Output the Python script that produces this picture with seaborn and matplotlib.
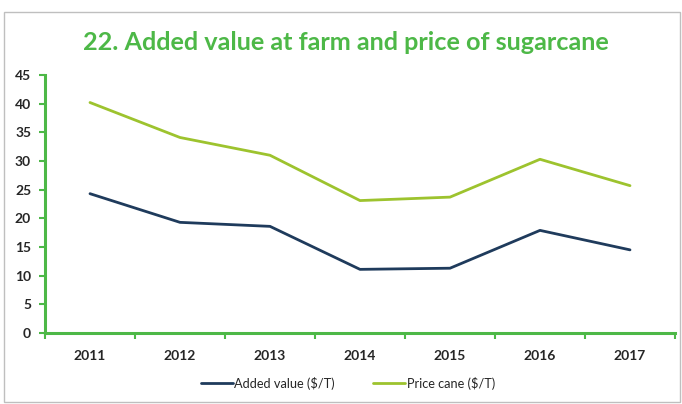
import matplotlib
matplotlib.use("Agg")
import matplotlib.pyplot as plt
import seaborn as sns
import pandas as pd
from matplotlib.patches import Rectangle
from matplotlib.ticker import FixedLocator

years = [2011, 2012, 2013, 2014, 2015, 2016, 2017]
added_value = [24.3, 19.3, 18.6, 11.1, 11.3, 17.9, 14.5]
price_cane = [40.2, 34.1, 31.0, 23.1, 23.7, 30.3, 25.7]
series_names = ["Added value ($/T)", "Price cane ($/T)"]
y_ticks = [0, 5, 10, 15, 20, 25, 30, 35, 40, 45]
title = "22. Added value at farm and price of sugarcane"

df = pd.DataFrame({
    "year": years * 2,
    "value": added_value + price_cane,
    "series": [series_names[0]] * len(years) + [series_names[1]] * len(years),
})

sns.set_theme(style="white")
plt.rcParams["font.family"] = ["Lato", "DejaVu Sans"]

GREEN = "#4DB847"
NAVY = "#1F3B5C"
LIME = "#9DC32E"
TXT = "#262626"

fig = plt.figure(figsize=(6.82, 4.04), dpi=100)
ax = fig.add_axes([45 / 682, 71 / 404, 630 / 682, 258 / 404])

sns.lineplot(data=df, x="year", y="value", hue="series",
             palette=[NAVY, LIME], linewidth=2.0, ax=ax, legend=True)

ax.set_xlim(years[0] - 0.5, years[-1] + 0.5)
ax.set_ylim(0, 45)
ax.set_yticks(y_ticks)
ax.set_yticklabels([str(t) for t in y_ticks], fontsize=10, color=TXT, fontweight="bold")
ax.set_xticks(years)
ax.set_xticklabels([str(y) for y in years], fontsize=10, color=TXT, fontweight="bold")
ax.xaxis.set_minor_locator(FixedLocator([y + 0.5 for y in [years[0] - 1] + years]))
ax.tick_params(axis="x", which="major", length=0, pad=12)
ax.tick_params(axis="x", which="minor", length=4, width=1.5, color=GREEN, direction="out", bottom=True)
ax.tick_params(axis="y", which="major", length=4, width=1.5, color=GREEN, direction="out", left=True, pad=6)
ax.set_xlabel("")
ax.set_ylabel("")

for s in ["top", "right"]:
    ax.spines[s].set_visible(False)
for s in ["left", "bottom"]:
    ax.spines[s].set_color(GREEN)
    ax.spines[s].set_linewidth(2.2)

handles, labels = ax.get_legend_handles_labels()
ax.legend_.remove()
fig.legend(handles, labels, loc="center", bbox_to_anchor=(348 / 682, 1 - 383 / 404),
           ncol=2, frameon=False, fontsize=9.2, handlelength=2.5, handletextpad=0.1,
           columnspacing=3.0, labelcolor=TXT)

fig.text(346 / 682, 1 - 42 / 404, title, ha="center", va="center",
         fontsize=18.2, fontweight="bold", color=GREEN)

fig.patches.append(Rectangle((4 / 682, 2 / 404), 676 / 682, 390 / 404,
                             transform=fig.transFigure, fill=False,
                             edgecolor="#BFBFBF", linewidth=1.0))

fig.savefig("out.png", dpi=100)
